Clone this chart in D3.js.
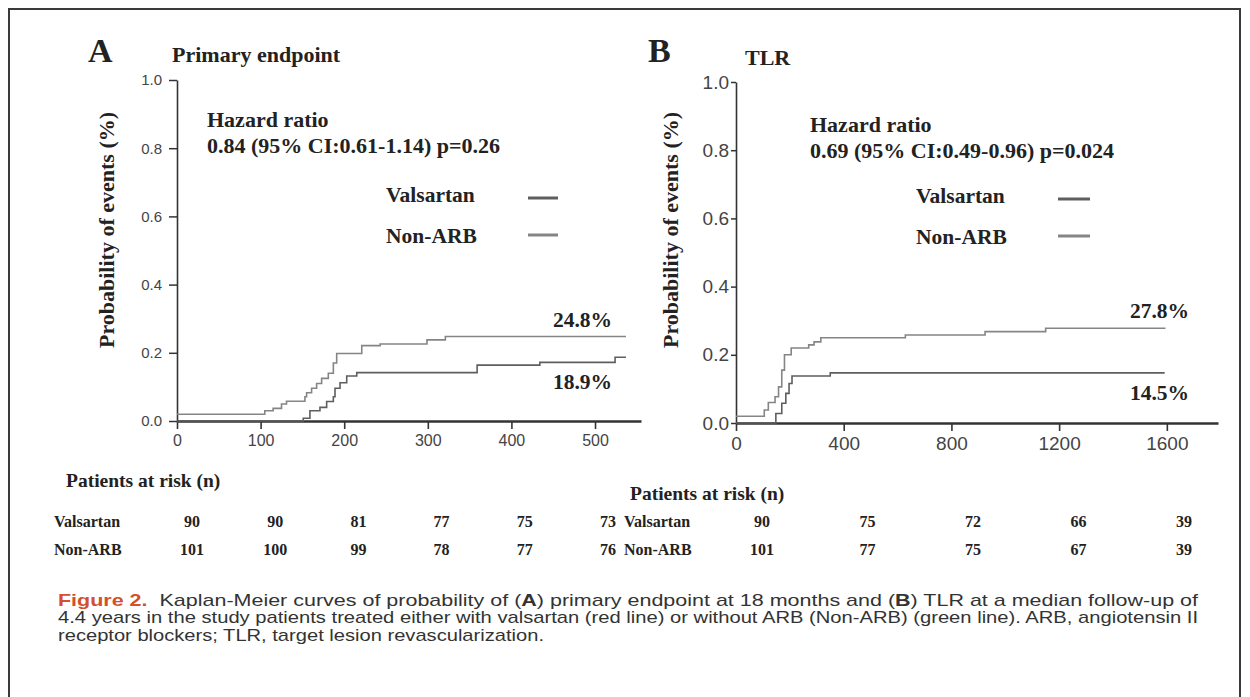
<!DOCTYPE html>
<html>
<head>
<meta charset="utf-8">
<script src="https://cdn.jsdelivr.net/npm/d3@7"></script>
<style>
body{margin:0;background:#fff;}
svg{display:block;}
.serif{font-family:"Liberation Serif","Times New Roman",serif;font-weight:bold;fill:#222;}
.caption{font-family:"Liberation Sans Narrow","Arial Narrow","Liberation Sans",Arial,sans-serif;fill:#333;font-size:17px;}
.domain,.tick line{stroke:#333;}
.tick text{font-family:"Liberation Sans",Arial,sans-serif;fill:#444;}
.km{fill:none;stroke-width:1.6;}
</style>
</head>
<body>
<div id="chartDiv"></div>
<script>
// Panel A - primary endpoint, Kaplan-Meier steps (day, cumulative prob.)
var daysA_val = [0,151,159,171,179,187,189,195,203,215,359,434,524,537];
var probA_val = [0,0.008,0.03,0.04,0.057,0.071,0.096,0.112,0.132,0.142,0.164,0.172,0.187,0.187];
var daysA_non = [0,105,115,125,131,153,155,161,167,173,181,187,191,221,243,299,321,537];
var probA_non = [0.02,0.03,0.037,0.05,0.058,0.071,0.083,0.096,0.11,0.125,0.14,0.17,0.198,0.221,0.226,0.238,0.248,0.248];

// Panel B - TLR
var daysB_val = [0,148,170,185,197,208,350,1592];
var probB_val = [0,0.028,0.058,0.087,0.116,0.138,0.147,0.147];
var daysB_non = [0,105,120,145,158,170,180,205,270,290,315,629,925,1150,1595];
var probB_non = [0.02,0.038,0.06,0.077,0.106,0.155,0.2,0.22,0.229,0.238,0.25,0.258,0.268,0.278,0.278];

// Axis ticks
var yTicks = [0,0.2,0.4,0.6,0.8,1.0];
var xTicksA = [0,100,200,300,400,500];
var xTicksB = [0,400,800,1200,1600];

// Patients at risk
var riskTimesA = [0,100,200,300,400,500];
var riskValA = [90,90,81,77,75,73];
var riskNonA = [101,100,99,78,77,76];
var riskTimesB = [0,400,800,1200,1600];
var riskValB = [90,75,72,66,39];
var riskNonB = [101,77,75,67,39];

var seriesNames = ["Valsartan","Non-ARB"];
var colVal = "#5e5e5e", colNon = "#858585";

var svg = d3.select("#chartDiv").append("svg")
 .attr("width",1250).attr("height",697);

svg.append("rect")				//frame round the figure
 .attr("x",9).attr("y",9).attr("width",1231).attr("height",720)
 .attr("fill","none").attr("stroke","#3a3a3a").attr("stroke-width",2);

function txt(x,y,s,size,anchor){
 return svg.append("text").attr("class","serif")
  .attr("x",x).attr("y",y).attr("font-size",size)
  .attr("text-anchor",anchor||"start").text(s);
}

function zip(days,probs){ return days.map(function(d,i){ return {t:d,p:probs[i]}; }); }

function drawPanel(p){
 var x = d3.scaleLinear().domain(p.xDomain).range(p.xRange);
 var y = d3.scaleLinear().domain([0,1]).range(p.yRange);

 var yAx = svg.append("g")			//y axis
  .attr("transform","translate(" + p.xRange[0] + ",0)")
  .call(d3.axisLeft(y).tickValues(yTicks).tickFormat(d3.format(".1f"))
   .tickSize(p.yTick).tickPadding(p.yPad).tickSizeOuter(0));
 yAx.selectAll("text").attr("font-size",p.yFont);
 yAx.select(".domain").attr("stroke-width",1.6);
 yAx.selectAll(".tick line").attr("stroke-width",1.5);

 var xAx = svg.append("g")			//x axis
  .attr("transform","translate(0," + p.yRange[0] + ")")
  .call(d3.axisBottom(x).tickValues(p.xTicks).tickFormat(d3.format("d"))
   .tickSize(8).tickPadding(p.xPad).tickSizeOuter(0));
 xAx.selectAll("text").attr("font-size",p.xFont);
 xAx.select(".domain").attr("stroke-width",2.6);
 xAx.selectAll(".tick line").attr("stroke-width",1.6);

 var line = d3.line().curve(d3.curveStepAfter)
  .x(function(d){ return x(d.t); })
  .y(function(d){ return y(d.p); });

 svg.append("path").datum(zip(p.nonDays,p.nonProb))
  .attr("class","km").attr("stroke",colNon).attr("d",line);
 svg.append("path").datum(zip(p.valDays,p.valProb))
  .attr("class","km").attr("stroke",colVal).attr("d",line);

 // labels
 txt(p.letterX,62,p.letter,34);
 txt(p.titleX,p.titleY,p.title,22);
 svg.append("text").attr("class","serif").attr("font-size",22)
  .attr("text-anchor","middle")
  .attr("transform","translate(" + p.ylabX + ",230) rotate(-90)")
  .text("Probability of events (%)");
 txt(p.hrX,p.hrY,"Hazard ratio",22);
 txt(p.hrX,p.hrY+26,p.hr,22);

 // legend
 [colVal,colNon].forEach(function(c,i){
  txt(p.legX,p.legY[i],seriesNames[i],21.5);
  svg.append("line").attr("x1",p.legLine[0]).attr("x2",p.legLine[1])
   .attr("y1",p.legY[i]-4-i*4).attr("y2",p.legY[i]-4-i*4)
   .attr("stroke",c).attr("stroke-width",3);
 });

 // end percentages
 txt(p.pctX,p.pctY[0],p.pct[0],21.5,"end");
 txt(p.pctX,p.pctY[1],p.pct[1],21.5,"end");

 // patients at risk
 var rx = d3.scaleLinear().domain(p.riskDomain).range(p.riskRange);
 txt(p.parX,p.parY,"Patients at risk (n)",19.5);
 [[p.riskVal,527],[p.riskNon,555]].forEach(function(r,i){
  txt(p.rowX,r[1],seriesNames[i],16);
  r[0].forEach(function(v,j){
   txt(rx(p.riskTimes[j]),r[1],v,16,"middle");
  });
 });
}

drawPanel({
 letter:"A",letterX:88,title:"Primary endpoint",titleX:172,titleY:62,
 xDomain:[0,555],xRange:[177,641],yRange:[421,80],xTicks:xTicksA,
 yTick:8,yPad:7,yFont:15,xPad:6,xFont:16,ylabX:114,
 hrX:207,hrY:127,hr:"0.84 (95% CI:0.61-1.14) p=0.26",
 legX:386,legY:[202,243],legLine:[528,558],
 pctX:612,pctY:[327,389],pct:["24.8%","18.9%"],
 valDays:daysA_val,valProb:probA_val,nonDays:daysA_non,nonProb:probA_non,
 riskDomain:[0,500],riskRange:[192,608],riskTimes:riskTimesA,
 riskVal:riskValA,riskNon:riskNonA,parX:66,parY:487,rowX:54
});

drawPanel({
 letter:"B",letterX:648,title:"TLR",titleX:745,titleY:65,
 xDomain:[0,1790],xRange:[736,1218],yRange:[423,82],xTicks:xTicksB,
 yTick:5,yPad:2,yFont:19,xPad:6,xFont:19,ylabX:678,
 hrX:810,hrY:132,hr:"0.69 (95% CI:0.49-0.96) p=0.024",
 legX:916,legY:[203,244],legLine:[1058,1090],
 pctX:1189,pctY:[318,400],pct:["27.8%","14.5%"],
 valDays:daysB_val,valProb:probB_val,nonDays:daysB_non,nonProb:probB_non,
 riskDomain:[0,1600],riskRange:[762,1184],riskTimes:riskTimesB,
 riskVal:riskValB,riskNon:riskNonB,parX:630,parY:500,rowX:624
});

// caption
var cap = svg.append("text").attr("class","caption")
 .attr("x",58).attr("y",606).attr("textLength",1140).attr("lengthAdjust","spacingAndGlyphs");
cap.append("tspan").attr("fill","#d4502c").attr("font-weight","bold").text("Figure 2.");
cap.append("tspan").text("\u00a0\u00a0Kaplan-Meier curves of probability of (");
cap.append("tspan").attr("font-weight","bold").text("A");
cap.append("tspan").text(") primary endpoint at 18 months and (");
cap.append("tspan").attr("font-weight","bold").text("B");
cap.append("tspan").text(") TLR at a median follow-up of");
svg.append("text").attr("class","caption").attr("x",58).attr("y",623)
 .attr("textLength",1140).attr("lengthAdjust","spacingAndGlyphs")
 .text("4.4 years in the study patients treated either with valsartan (red line) or without ARB (Non-ARB) (green line). ARB, angiotensin II");
svg.append("text").attr("class","caption").attr("x",58).attr("y",641)
 .attr("textLength",486).attr("lengthAdjust","spacingAndGlyphs")
 .text("receptor blockers; TLR, target lesion revascularization.");
</script>
</body>
</html>
